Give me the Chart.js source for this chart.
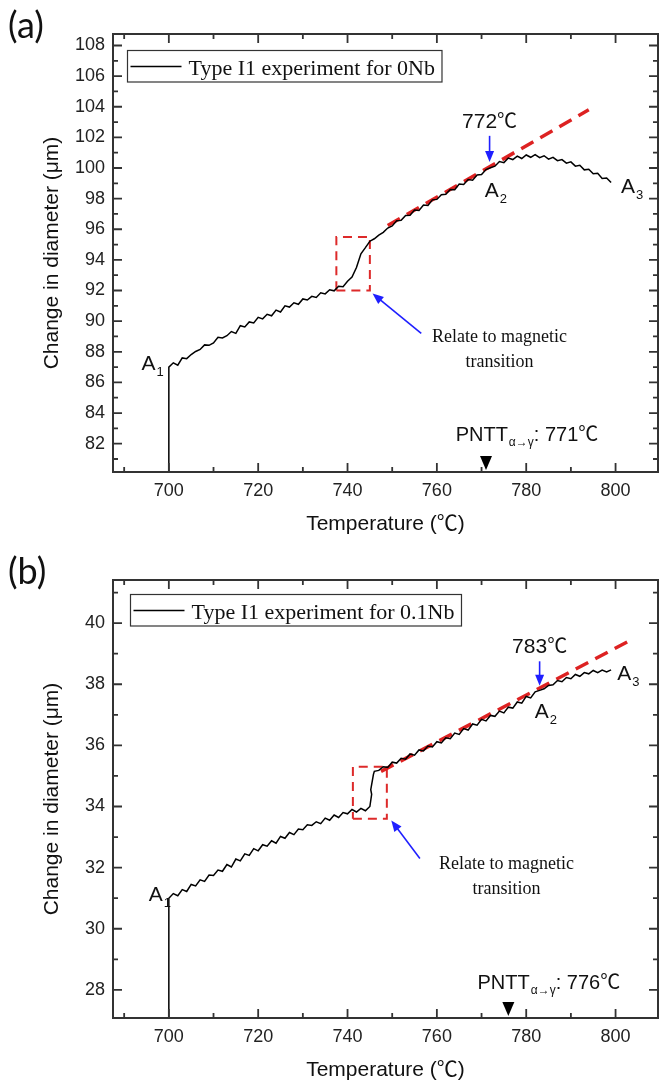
<!DOCTYPE html>
<html>
<head>
<meta charset="utf-8">
<script src="https://cdn.jsdelivr.net/npm/chart.js@4.4.0/dist/chart.umd.min.js"></script>
<style>
  body { margin: 0; background: #fff; width: 670px; height: 1084px; overflow: hidden; position: relative; }
  .panel { position: absolute; left: 0; width: 670px; height: 546px; }
  .tag { position: absolute; left: 8px; top: 2px; font: 36px Lato, sans-serif; color: #111; }
</style>
</head>
<body>
<div class="panel" style="top:0"><canvas id="chartA" width="670" height="546"></canvas><div class="tag">(a)</div></div>
<div class="panel" style="top:546px"><canvas id="chartB" width="670" height="546"></canvas><div class="tag">(b)</div></div>
<script>
// ---- panel (a): 0Nb ----
const tempA = [
  700, 700, 701, 702, 703, 704, 705, 706, 707, 708, 709,
  710, 711, 712, 713, 714, 715, 716, 717, 718, 719,
  720, 721, 722, 723, 724, 725, 726, 727, 728, 729,
  730, 731, 732, 733, 734, 735, 736, 737, 738, 739,
  740, 741, 742, 743, 744, 745, 746, 747, 748, 749,
  750, 751, 752, 753, 754, 755, 756, 757, 758, 759,
  760, 761, 762, 763, 764, 765, 766, 767, 768, 769,
  770, 771, 772, 773, 774, 775, 776, 777, 778, 779,
  780, 781, 782, 783, 784, 785, 786, 787, 788, 789,
  790, 791, 792, 793, 794, 795, 796, 797, 798, 799
];
const diamA = [
  80.0, 87.00, 87.28, 87.12, 87.60, 87.55, 87.82, 88.02, 88.15, 88.45, 88.42,
  88.58, 88.95, 88.90, 89.05, 89.32, 89.20, 89.70, 89.62, 89.95, 89.88,
  90.25, 90.15, 90.45, 90.35, 90.72, 90.60, 91.00, 90.92, 91.20, 91.10,
  91.45, 91.38, 91.62, 91.55, 91.85, 91.78, 92.05, 91.98, 92.28, 92.25,
  92.60, 92.88, 93.50, 94.40, 94.80, 95.22, 95.38, 95.62, 95.80, 96.08,
  96.22, 96.55, 96.58, 96.90, 96.92, 97.25, 97.22, 97.58, 97.55, 97.92,
  97.95, 98.25, 98.28, 98.60, 98.58, 98.95, 98.92, 99.25, 99.20, 99.55,
  99.58, 99.90, 100.02, 100.12, 100.42, 100.35, 100.65, 100.55, 100.78, 100.62,
  100.85, 100.70, 100.88, 100.68, 100.80, 100.58, 100.70, 100.48, 100.55, 100.32,
  100.40, 100.12, 100.18, 99.88, 99.92, 99.62, 99.65, 99.32, 99.35, 99.05
];
const fitTempA = [749, 794];
const fitDiamA = [96.25, 103.8];
const boxTempA = [737.5, 745, 745, 737.5, 737.5];
const boxDiamA = [92.0, 92.0, 95.5, 95.5, 92.0];
const xTicksA = [700, 720, 740, 760, 780, 800];
const yTicksA = [82, 84, 86, 88, 90, 92, 94, 96, 98, 100, 102, 104, 106, 108];

// ---- panel (b): 0.1Nb ----
const tempB = [
  700, 700, 701, 702, 703, 704, 705, 706, 707, 708, 709,
  710, 711, 712, 713, 714, 715, 716, 717, 718, 719,
  720, 721, 722, 723, 724, 725, 726, 727, 728, 729,
  730, 731, 732, 733, 734, 735, 736, 737, 738, 739,
  740, 741, 742, 743, 744, 745, 745.4, 745.2, 745.8, 746, 747, 748, 749,
  750, 751, 752, 753, 754, 755, 756, 757, 758, 759,
  760, 761, 762, 763, 764, 765, 766, 767, 768, 769,
  770, 771, 772, 773, 774, 775, 776, 777, 778, 779,
  780, 781, 782, 783, 784, 785, 786, 787, 788, 789,
  790, 791, 792, 793, 794, 795, 796, 797, 798, 799
];
const diamB = [
  27.0, 31.00, 31.15, 31.08, 31.28, 31.22, 31.45, 31.40, 31.60, 31.55, 31.76,
  31.74, 31.92, 31.88, 32.10, 32.02, 32.28, 32.22, 32.45, 32.40, 32.62,
  32.55, 32.75, 32.70, 32.88, 32.80, 33.02, 32.96, 33.15, 33.08, 33.26,
  33.24, 33.40, 33.38, 33.50, 33.44, 33.62, 33.55, 33.72, 33.64, 33.80,
  33.76, 33.90, 33.82, 33.94, 33.86, 34.00, 34.40, 34.55, 35.05, 35.15, 35.18, 35.30, 35.28,
  35.45, 35.42, 35.58, 35.55, 35.72, 35.68, 35.85, 35.82, 35.98, 35.95,
  36.12, 36.08, 36.25, 36.22, 36.40, 36.36, 36.55, 36.50, 36.70, 36.66,
  36.85, 36.80, 36.98, 36.95, 37.12, 37.06, 37.25, 37.22, 37.42, 37.38,
  37.60, 37.55, 37.75, 37.80, 37.85, 37.96, 37.98, 38.12, 38.08, 38.22,
  38.18, 38.32, 38.26, 38.38, 38.34, 38.45, 38.38, 38.46, 38.40, 38.47
];
const fitTempB = [747.5, 803.5];
const fitDiamB = [35.15, 39.45];
const boxTempB = [741.2, 748.8, 748.8, 741.2, 741.2];
const boxDiamB = [33.6, 33.6, 35.3, 35.3, 33.6];
const xTicksB = [700, 720, 740, 760, 780, 800];
const yTicksB = [28, 30, 32, 34, 36, 38, 40];

const SANS = "'Liberation Sans', Arial, 'Noto Sans CJK SC', sans-serif";
const SERIF = "'Liberation Serif', 'Times New Roman', serif";
const CJK = "'Noto Sans CJK SC', 'DejaVu Sans', sans-serif";

const pts = (xs, ys) => xs.map((t, i) => ({ x: t, y: ys[i] }));

function arrow(ctx, x1, y1, x2, y2) {
  const ang = Math.atan2(y2 - y1, x2 - x1);
  const len = 11, hw = 4.5;
  ctx.strokeStyle = '#1f1fff';
  ctx.fillStyle = '#1f1fff';
  ctx.lineWidth = 1.6;
  ctx.beginPath();
  ctx.moveTo(x1, y1);
  ctx.lineTo(x2 - Math.cos(ang) * len * 0.8, y2 - Math.sin(ang) * len * 0.8);
  ctx.stroke();
  ctx.beginPath();
  ctx.moveTo(x2, y2);
  ctx.lineTo(x2 - Math.cos(ang) * len - Math.sin(ang) * hw, y2 - Math.sin(ang) * len + Math.cos(ang) * hw);
  ctx.lineTo(x2 - Math.cos(ang) * len + Math.sin(ang) * hw, y2 - Math.sin(ang) * len - Math.cos(ang) * hw);
  ctx.closePath();
  ctx.fill();
}

// A with subscript
function subLabel(ctx, x, y, main, sub) {
  ctx.fillStyle = '#111';
  ctx.textAlign = 'left';
  ctx.textBaseline = 'alphabetic';
  ctx.font = '21px ' + SANS;
  ctx.fillText(main, x, y);
  const w = ctx.measureText(main).width;
  ctx.font = '13px ' + SANS;
  ctx.fillText(sub, x + w + 1, y + 6);
}

function decoPlugin(p) {
  return {
    id: 'deco',
    afterDraw(chart) {
      const { ctx, chartArea: a, scales: { x, y } } = chart;
      const px = v => x.getPixelForValue(v);
      const py = v => y.getPixelForValue(v);
      ctx.save();

      // frame and inward ticks on all four sides
      ctx.strokeStyle = '#333';
      ctx.lineWidth = 2;
      ctx.strokeRect(a.left, a.top, a.right - a.left, a.bottom - a.top);
      ctx.lineWidth = 1.8;
      ctx.beginPath();
      const xStep = p.xTicks[1] - p.xTicks[0];
      const yStep = p.yTicks[1] - p.yTicks[0];
      const xMinor = p.xTicks.map(v => v - xStep / 2).concat([p.xTicks[p.xTicks.length - 1] + xStep / 2]);
      const yMinor = p.yTicks.map(v => v - yStep / 2).concat([p.yTicks[p.yTicks.length - 1] + yStep / 2]);
      const xTick = (v, l) => {
        if (v < x.min || v > x.max) return;
        const X = px(v);
        ctx.moveTo(X, a.bottom); ctx.lineTo(X, a.bottom - l);
        ctx.moveTo(X, a.top); ctx.lineTo(X, a.top + l);
      };
      const yTick = (v, l) => {
        if (v < y.min || v > y.max) return;
        const Y = py(v);
        ctx.moveTo(a.left, Y); ctx.lineTo(a.left + l, Y);
        ctx.moveTo(a.right, Y); ctx.lineTo(a.right - l, Y);
      };
      p.xTicks.forEach(v => xTick(v, 9));
      xMinor.forEach(v => xTick(v, 5));
      p.yTicks.forEach(v => yTick(v, 9));
      yMinor.forEach(v => yTick(v, 5));
      ctx.stroke();

      // axis titles
      ctx.fillStyle = '#111';
      ctx.font = '21px ' + SANS;
      ctx.textAlign = 'center';
      ctx.textBaseline = 'alphabetic';
      ctx.fillText('Temperature (℃)', (a.left + a.right) / 2, a.bottom + 58);
      ctx.save();
      ctx.translate(52, (a.top + a.bottom) / 2);
      ctx.rotate(-Math.PI / 2);
      ctx.textBaseline = 'middle';
      ctx.fillText('Change in diameter (μm)', 0, 0);
      ctx.restore();

      // legend
      ctx.font = '22px ' + SERIF;
      ctx.textAlign = 'left';
      ctx.textBaseline = 'alphabetic';
      const lx = a.left + p.legend.dx, ly = a.top + p.legend.dy;
      const tw = ctx.measureText(p.legend.text).width;
      ctx.fillStyle = '#fff';
      ctx.fillRect(lx, ly, 62 + tw + 6, 31.5);
      ctx.strokeStyle = '#333';
      ctx.lineWidth = 1.2;
      ctx.strokeRect(lx, ly, 62 + tw + 6, 31.5);
      ctx.strokeStyle = '#000';
      ctx.lineWidth = 1.5;
      ctx.beginPath();
      ctx.moveTo(lx + 3, ly + 16); ctx.lineTo(lx + 54, ly + 16);
      ctx.stroke();
      ctx.fillStyle = '#111';
      ctx.fillText(p.legend.text, lx + 61, ly + 24);

      // point labels A1 A2 A3
      p.labels.forEach(l => subLabel(ctx, px(l.t), py(l.v), 'A', l.sub));

      // onset temperature with arrow
      ctx.font = '21px ' + SANS;
      ctx.textAlign = 'left';
      const ow = ctx.measureText(p.onset.text).width;
      ctx.font = '20px ' + CJK;
      const cw = ctx.measureText('℃').width;
      let ox = px(p.onset.t) - (ow + cw) / 2;
      ctx.font = '21px ' + SANS;
      ctx.fillText(p.onset.text, ox, py(p.onset.v));
      ctx.font = '20px ' + CJK;
      ctx.fillText('℃', ox + ow, py(p.onset.v));
      arrow(ctx, px(p.onset.t), py(p.onset.from), px(p.onset.t), py(p.onset.to));

      // magnetic transition note
      arrow(ctx, px(p.note.tail[0]), py(p.note.tail[1]), px(p.note.head[0]), py(p.note.head[1]));
      ctx.fillStyle = '#111';
      ctx.font = '18px ' + SERIF;
      ctx.textAlign = 'center';
      ctx.fillText('Relate to magnetic', px(p.note.t), py(p.note.v1));
      ctx.fillText('transition', px(p.note.t), py(p.note.v2));

      // PNTT marker
      ctx.textAlign = 'left';
      let tx = px(p.pntt.t0);
      const ty = py(p.pntt.v);
      ctx.font = '20px ' + SANS;
      ctx.fillText('PNTT', tx, ty);
      tx += ctx.measureText('PNTT').width + 1;
      ctx.font = '12px ' + SANS;
      ctx.fillText('α→γ', tx, ty + 5);
      tx += ctx.measureText('α→γ').width;
      ctx.font = '20px ' + SANS;
      ctx.fillText(': ' + p.pntt.temp, tx, ty);
      tx += ctx.measureText(': ' + p.pntt.temp).width;
      ctx.font = '20px ' + CJK;
      ctx.fillText('℃', tx, ty);
      const mx = px(p.pntt.temp);
      ctx.fillStyle = '#000';
      ctx.beginPath();
      ctx.moveTo(mx, a.bottom - 2);
      ctx.lineTo(mx - 6, a.bottom - 16);
      ctx.lineTo(mx + 6, a.bottom - 16);
      ctx.closePath();
      ctx.fill();

      ctx.restore();
    }
  };
}

function makeChart(id, p) {
  new Chart(document.getElementById(id), {
    type: 'scatter',
    data: {
      datasets: [
        { data: pts(p.temps, p.diams), showLine: true, borderColor: '#000', borderWidth: 1.5, pointRadius: 0, tension: 0 },
        { data: pts(p.fitT, p.fitD), showLine: true, borderColor: '#dd2222', borderWidth: 3.5, borderDash: [14, 8], pointRadius: 0 },
        { data: pts(p.boxT, p.boxD), showLine: true, borderColor: '#dd2a2a', borderWidth: 2, borderDash: [9, 6], pointRadius: 0 }
      ]
    },
    options: {
      responsive: false,
      animation: false,
      events: [],
      layout: { padding: { top: 34, right: 12, left: 0, bottom: 0 } },
      plugins: { legend: { display: false }, tooltip: { enabled: false } },
      scales: {
        x: {
          type: 'linear', min: 687.5, max: 809.5,
          grid: { display: false, drawTicks: false }, border: { display: false },
          ticks: { padding: 8, color: '#222', maxRotation: 0, font: { family: SANS, size: 18 } },
          afterBuildTicks: s => { s.ticks = p.xTicks.map(v => ({ value: v })); },
          afterFit: s => { s.height = 74; }
        },
        y: {
          type: 'linear', min: p.yMin, max: p.yMax,
          grid: { display: false, drawTicks: false }, border: { display: false },
          ticks: { padding: 8, color: '#222', font: { family: SANS, size: 18 } },
          afterBuildTicks: s => { s.ticks = p.yTicks.map(v => ({ value: v })); },
          afterFit: s => { s.width = 113; }
        }
      }
    },
    plugins: [decoPlugin(p)]
  });
}

makeChart('chartA', {
  temps: tempA, diams: diamA, fitT: fitTempA, fitD: fitDiamA, boxT: boxTempA, boxD: boxDiamA,
  xTicks: xTicksA, yTicks: yTicksA, yMin: 80.15, yMax: 108.75,
  legend: { text: 'Type I1 experiment for 0Nb', dx: 14.5, dy: 16.5 },
  labels: [{ t: 693.9, v: 86.8, sub: '1' }, { t: 770.7, v: 98.1, sub: '2' }, { t: 801.2, v: 98.36, sub: '3' }],
  onset: { text: '772', t: 771.8, v: 102.6, from: 102.1, to: 100.4 },
  note: { tail: [756.5, 89.2], head: [745.6, 91.8], t: 774, v1: 88.64, v2: 87.0 },
  pntt: { t0: 764.2, v: 82.2, temp: 771 }
});

makeChart('chartB', {
  temps: tempB, diams: diamB, fitT: fitTempB, fitD: fitDiamB, boxT: boxTempB, boxD: boxDiamB,
  xTicks: xTicksB, yTicks: yTicksB, yMin: 27.08, yMax: 41.41,
  legend: { text: 'Type I1 experiment for 0.1Nb', dx: 17.5, dy: 14.5 },
  labels: [{ t: 695.5, v: 30.92, sub: '1' }, { t: 781.9, v: 36.89, sub: '2' }, { t: 800.4, v: 38.13, sub: '3' }],
  onset: { text: '783', t: 783, v: 39.02, from: 38.75, to: 37.95 },
  note: { tail: [756.2, 32.3], head: [749.8, 33.54], t: 775.6, v1: 31.97, v2: 31.15 },
  pntt: { t0: 769.1, v: 28.03, temp: 776 }
});
</script>
</body>
</html>
